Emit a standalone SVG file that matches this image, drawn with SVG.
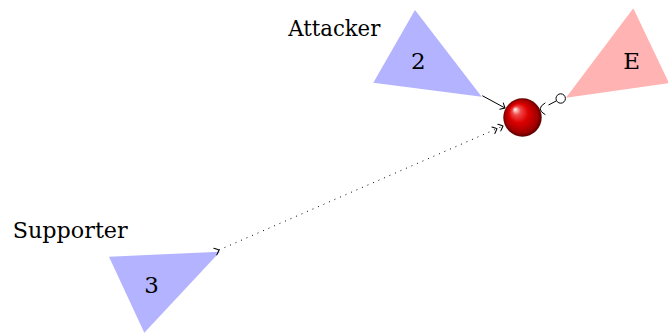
<svg xmlns="http://www.w3.org/2000/svg" width="668" height="335" viewBox="0 0 668 335">
<style>
text{font-family:'DejaVu Serif','Liberation Serif',serif;font-size:23px;fill:#000}
.num{text-anchor:middle}
.blue{fill:#b3b3ff}
.pink{fill:#ffb3b3}
.ln{fill:none;stroke:#000;stroke-width:1}
.tip{fill:none;stroke:#000;stroke-width:1;stroke-linecap:round;stroke-linejoin:round}
</style>
<defs>
<radialGradient id="ballg" cx="0.5" cy="0.5" r="0.5" fx="0.3" fy="0.28">
<stop offset="0" stop-color="#ffffff"/>
<stop offset="0.22" stop-color="#f04848"/>
<stop offset="0.5" stop-color="#dd0000"/>
<stop offset="0.85" stop-color="#a00000"/>
<stop offset="1" stop-color="#5a0000"/>
</radialGradient>
<marker id="to" markerUnits="userSpaceOnUse" markerWidth="12" markerHeight="12" viewBox="-6 -6 12 12" refX="0" refY="0" orient="auto" overflow="visible">
<path class="tip" d="M-4,-3.6 Q-1,-1 0,0 Q-1,1 -4,3.6"/>
</marker>
<marker id="to2" markerUnits="userSpaceOnUse" markerWidth="16" markerHeight="12" viewBox="-12 -6 16 12" refX="0" refY="0" orient="auto" overflow="visible">
<path class="tip" d="M-4,-3.6 Q-1,-1 0,0 Q-1,1 -4,3.6 M-10.5,-3.6 Q-7.5,-1 -6.5,0 Q-7.5,1 -10.5,3.6"/>
</marker>
</defs>

<g id="node-2">
<polygon class="blue" points="415,10 373.3,82.7 481.7,96.7"/>
<text class="num" x="418.3" y="69.3">2</text>
</g>
<g id="label-attacker">
<text x="288.3" y="36" textLength="92" lengthAdjust="spacingAndGlyphs">Attacker</text>
</g>
<g id="node-E">
<polygon class="pink" points="633.3,8.3 566,97.7 669,83"/>
<text class="num" x="631.7" y="69.3">E</text>
</g>
<g id="node-3">
<polygon class="blue" points="109,256.7 220,251.7 144.3,332.7"/>
<text class="num" x="151.5" y="292.5">3</text>
</g>
<g id="label-supporter">
<text x="12.7" y="238.3" textLength="115" lengthAdjust="spacingAndGlyphs">Supporter</text>
</g>
<g id="ball">
<circle cx="522.5" cy="117.5" r="19.2" fill="url(#ballg)"/>
</g>

<g id="connectors">
<line class="ln" x1="482.3" y1="95.7" x2="505" y2="108" marker-end="url(#to)"/>
<line class="ln" x1="219" y1="250" x2="503" y2="126" stroke-dasharray="1 5" marker-start="url(#to)" marker-end="url(#to2)"/>
<circle cx="560.7" cy="98.5" r="4.7" fill="#fff" stroke="#000" stroke-width="1"/>
<line class="ln" x1="556.5" y1="100.8" x2="548.5" y2="105"/>
<path class="tip" d="M545,103 Q535,109 545,114.5"/>
</g>
</svg>
